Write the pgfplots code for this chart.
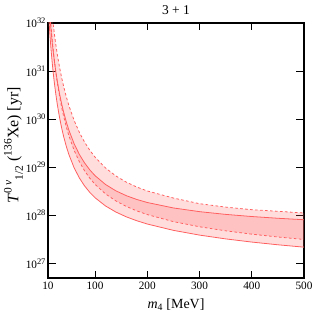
\documentclass[border=0pt]{standalone}
\usepackage{fontspec}
\setmainfont{Liberation Serif}
\usepackage{pgfplots}
\pgfplotsset{compat=1.18}
\usepackage{pgfplotstable}
\usepgfplotslibrary{fillbetween}
\definecolor{lc}{RGB}{255,95,95}
\definecolor{fc}{RGB}{255,100,100}
\newcommand{\scr}[1]{{\fontsize{11.5}{12}\selectfont #1}}
\newcommand{\ylab}{\fontsize{16}{18}\selectfont\textit{T}\raisebox{0.42em}{\scr{0 \textit{ν}}}\raisebox{-0.28em}{\scr{1/2}} (\raisebox{0.42em}{\scr{136}}Xe) [yr]}
\newcommand{\pe}[1]{10\raisebox{0.4em}{\fontsize{8.5}{9}\selectfont #1}}
% log10 of T (yr)
\pgfplotstableread{
m su sl du dl
10 32.734 32.420 33.314 32.904
12 32.3815 32.0317 32.9595 32.5132
14 32.0847 31.7058 32.6609 32.1846
16 31.8288 31.4260 32.4030 31.9016
18 31.6044 31.1816 32.1762 31.6537
20 31.4048 30.9654 31.9742 31.4336
22 31.2256 30.7723 31.7921 31.2362
25 30.9873 30.5170 31.5493 30.9743
28 30.7787 30.2955 31.3357 30.7457
32 30.5369 30.0415 31.0864 30.4814
36 30.3279 29.8247 30.8693 30.2538
40 30.1450 29.6375 30.6778 30.0554
45 29.9461 29.4368 30.4673 29.8405
50 29.7738 29.2656 30.2829 29.6552
60 29.4908 28.9901 29.9745 29.3524
70 29.2688 28.7790 29.7267 29.1162
80 29.0912 28.6127 29.5235 28.9275
90 28.9467 28.4787 29.3545 28.7739
100 28.8275 28.3684 29.2122 28.6466
120 28.6439 28.1972 28.9875 28.4483
140 28.5104 28.0697 28.8197 28.3007
160 28.4098 27.9700 28.6909 28.1861
180 28.3314 27.8891 28.5897 28.0939
200 28.2687 27.8214 28.5083 28.0175
250 28.1553 27.6896 28.3616 27.8714
300 28.0784 27.5910 28.2436 27.7643
350 28.0215 27.5120 28.1729 27.6800
400 27.9770 27.4461 28.1189 27.6106
450 27.9407 27.3896 28.0857 27.5515
500 27.9100 27.3400 28.0500 27.5000
}\data
\begin{document}
\begin{tikzpicture}
\begin{axis}[
  name=main,
  scale only axis, width=256bp, height=255bp,
  xmin=10, xmax=500, ymode=log, ymin=5e26, ymax=1e32,
  xtick={10,100,200,300,400,500},
  ytick={1e27,1e28,1e29,1e30,1e31,1e32},
  yticklabels={\pe{27},\pe{28},\pe{29},\pe{30},\pe{31},\pe{32}},
  yminorticks=false,
  tick align=inside, major tick length=7.5bp,
  axis line style={line width=1.1pt},
  every tick/.style={black, line width=0.9pt},
  /pgf/number format/assume math mode=true,
  ticklabel style={font=\fontsize{11.3}{12}\selectfont},
  yticklabel style={xshift=1bp},
  xlabel={\textit{m}\textsubscript{4} [MeV]},
  xlabel style={font=\fontsize{14}{16}\selectfont, at={(axis description cs:0.5,-0.106)}, anchor=center},
  ylabel={\ylab},
  ylabel style={at={(axis description cs:-0.135,0.52)}, anchor=center},
]
\addplot[lc, line width=0.8pt, name path=su] table[x=m, y expr=10^\thisrow{su}] {\data};
\addplot[lc, line width=0.8pt, name path=sl] table[x=m, y expr=10^\thisrow{sl}] {\data};
\addplot[lc, line width=0.8pt, dash pattern=on 2.6pt off 2.4pt, name path=du] table[x=m, y expr=10^\thisrow{du}] {\data};
\addplot[lc, line width=0.8pt, dash pattern=on 2.6pt off 2.4pt, name path=dl] table[x=m, y expr=10^\thisrow{dl}] {\data};
\addplot[fc, fill opacity=0.22, draw=none] fill between[of=su and sl];
\addplot[fc, fill opacity=0.22, draw=none] fill between[of=du and dl];
\end{axis}
\node[font=\fontsize{13.5}{15}\selectfont, anchor=center, inner sep=0pt] at ([yshift=13bp]main.north) {3 + 1};
\pgfresetboundingbox
\path[use as bounding box] ([xshift=-48bp,yshift=-41bp]main.south west) rectangle ([xshift=9bp,yshift=23bp]main.north east);
\end{tikzpicture}
\end{document}
